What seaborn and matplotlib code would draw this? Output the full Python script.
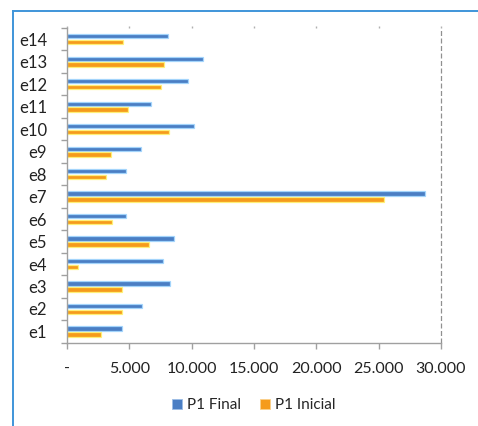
import matplotlib
matplotlib.use("Agg")
import matplotlib.pyplot as plt
from matplotlib.patches import Patch
from matplotlib.lines import Line2D
from matplotlib.ticker import FixedLocator, FuncFormatter
import numpy as np
import pandas as pd
import seaborn as sns

# Data
categories = ["e1", "e2", "e3", "e4", "e5", "e6", "e7",
              "e8", "e9", "e10", "e11", "e12", "e13", "e14"]
p1_final = [4400, 6000, 8300, 7700, 8600, 4700, 28700,
            4700, 5900, 10200, 6700, 9700, 10900, 8100]
p1_inicial = [2700, 4400, 4400, 850, 6600, 3600, 25400,
              3100, 3500, 8200, 4900, 7500, 7800, 4500]
series_names = ["P1 Final", "P1 Inicial"]
x_ticks = [0, 5000, 10000, 15000, 20000, 25000, 30000]

df = pd.DataFrame({
    "cat": categories * 2,
    "value": p1_final + p1_inicial,
    "serie": [series_names[0]] * len(categories) + [series_names[1]] * len(categories),
})

sns.set_theme(style="white")
plt.rcParams["font.family"] = ["Lato", "DejaVu Sans"]

blue = "#4a7ec4"
orange = "#f59b1c"
palette = {series_names[0]: blue, series_names[1]: orange}

fig = plt.figure(figsize=(4.78, 4.26), dpi=100)
ax = fig.add_axes([0.1402, 0.1955, 0.7824, 0.7388])

sns.barplot(data=df, y="cat", x="value", hue="serie", hue_order=series_names,
            order=categories[::-1], palette=palette, orient="h",
            width=0.52, gap=0.25, errorbar=None, legend=False, ax=ax,
            saturation=1)

# soft light halo round each bar
for bar in ax.patches:
    fc = bar.get_facecolor()
    bar.set_edgecolor((min(fc[0] + 0.35, 1), min(fc[1] + 0.35, 1), min(fc[2] + 0.35, 1), 0.9))
    bar.set_linewidth(0.9)

ax.set_xlim(0, 30000)
ax.set_ylim(len(categories) - 0.5, -0.5)
ax.set_xlabel("")
ax.set_ylabel("")

# axis lines
for side in ["top", "right"]:
    ax.spines[side].set_visible(False)
for side in ["left", "bottom"]:
    ax.spines[side].set_color("#a0a0a0")
    ax.spines[side].set_linewidth(1.0)

ax.axvline(30000, color="#909090", linestyle=(0, (4, 2)), linewidth=0.9, clip_on=False)

# x ticks
ax.xaxis.set_major_locator(FixedLocator(x_ticks))
ax.xaxis.set_major_formatter(FuncFormatter(
    lambda v, p: "-" if v == 0 else f"{int(v):,}".replace(",", ".")))
ax.tick_params(axis="x", which="major", bottom=True, top=True, direction="out",
               length=4, width=1, color="#a0a0a0", pad=10, labelsize=11.5,
               labelcolor="#222222")
for t in ax.xaxis.get_major_ticks():
    t.tick2line.set_markersize(1.5)
    t.tick2line.set_markeredgecolor("#b0b0b0")

# y ticks: labels at centers, marks at category boundaries
ax.yaxis.set_minor_locator(FixedLocator(np.arange(-0.5, len(categories), 1.0)))
ax.tick_params(axis="y", which="major", left=False, pad=8.5, labelsize=12,
               labelcolor="#222222")
ax.tick_params(axis="y", which="minor", left=True, direction="out",
               length=4, width=1, color="#a0a0a0")

# legend
handles = [Patch(facecolor=blue, edgecolor="#9cbde6", linewidth=0.6),
           Patch(facecolor=orange, edgecolor="#fbd08a", linewidth=0.6)]
fig.legend(handles, series_names, loc="center", bbox_to_anchor=(0.531, 0.049),
           ncol=2, frameon=False, fontsize=11, handlelength=0.65, handleheight=0.6,
           handletextpad=0.35, columnspacing=1.2)

# outer frame (top and left edges)
frame_kw = dict(transform=fig.transFigure, color="#3f95d9", linewidth=1.4,
                solid_capstyle="projecting")
x0 = 12.5 / 478
y0 = 1 - 10.5 / 426
fig.add_artist(Line2D([x0, 1.0], [y0, y0], **frame_kw))
fig.add_artist(Line2D([x0, x0], [0.0, y0], **frame_kw))

fig.savefig("out.png", dpi=100)
